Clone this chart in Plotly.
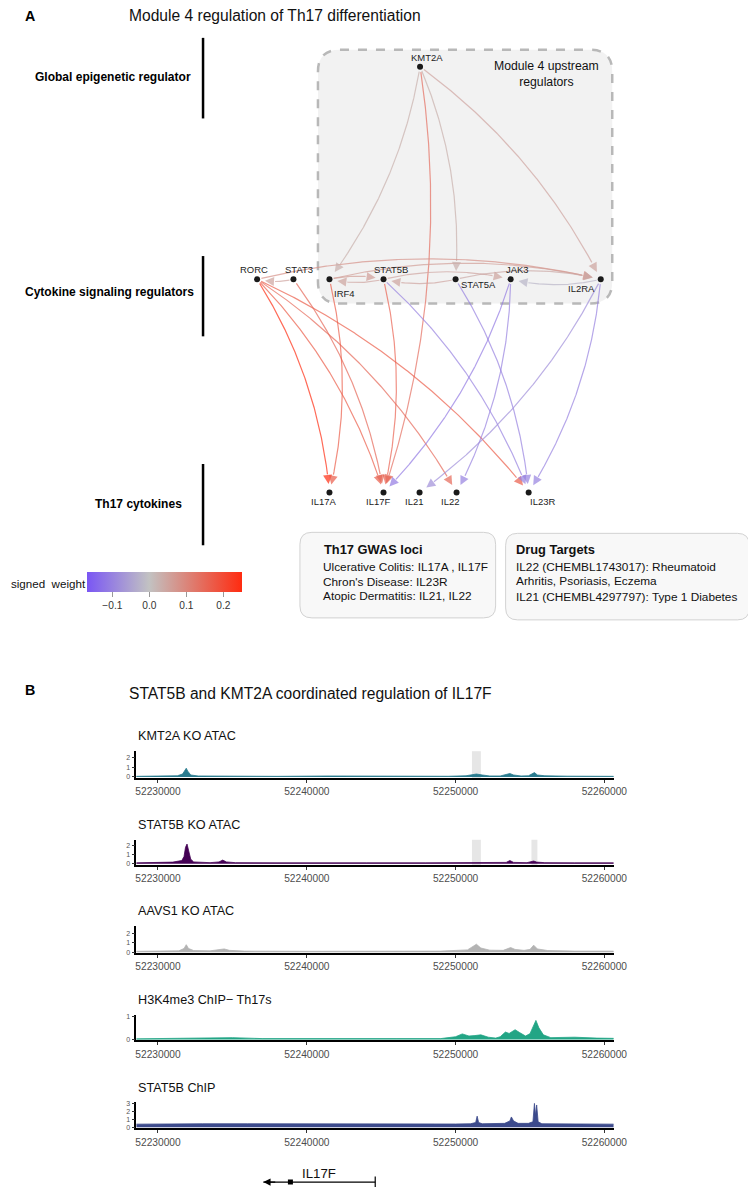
import numpy as np
import plotly.graph_objects as go
from plotly.colors import sample_colorscale

# Window pixel positions are mapped to figure pixels:
# the page body keeps an 8px margin and the photograph is squeezed horizontally (SX).
OFF = 8
SX = 756 / 771
W, H = 756, 1182
FONT = "Liberation Sans, Arial, Helvetica, sans-serif"

# ======================= DATA =======================
# ---- Panel A: regulatory network ----
panel_a_title = "Module 4 regulation of Th17 differentiation"
level_labels = ["Global epigenetic regulator", "Cytokine signaling regulators", "Th17 cytokines"]
module_box_label = "Module 4 upstream<br>regulators"
node_names = ["KMT2A", "RORC", "STAT3", "IRF4", "STAT5B", "STAT5A", "JAK3", "IL2RA",
              "IL17A", "IL17F", "IL21", "IL22", "IL23R"]
edge_source = ["KMT2A", "KMT2A", "KMT2A", "KMT2A",
               "RORC", "STAT3", "IRF4", "STAT5B", "IRF4", "STAT5B", "STAT5A", "STAT5A", "IL2RA",
               "RORC", "RORC", "RORC", "RORC", "STAT3", "IRF4", "STAT5B",
               "STAT5B", "STAT5A", "JAK3", "JAK3", "IL2RA", "IL2RA"]
edge_target = ["IRF4", "STAT5A", "IL2RA", "IL17F",
               "IL2RA", "RORC", "STAT5B", "IRF4", "IL2RA", "JAK3", "STAT5B", "IL2RA", "JAK3",
               "IL17A", "IL17F", "IL22", "IL23R", "IL17F", "IL17A", "IL17F",
               "IL23R", "IL23R", "IL17F", "IL22", "IL21", "IL23R"]
edge_weight = [0.03, 0.03, 0.05, 0.14,
               0.08, 0.05, 0.06, 0.05, 0.06, 0.05, 0.05, 0.04, -0.02,
               0.25, 0.17, 0.15, 0.17, 0.15, 0.17, 0.16,
               -0.10, -0.10, -0.11, -0.10, -0.08, -0.10]
weight_min, weight_max = -0.168, 0.251
weight_ticks = [-0.1, 0.0, 0.1, 0.2]
weight_tick_text = ["\u22120.1", "0.0", "0.1", "0.2"]
colorbar_label = "signed  weight"

gwas_title = "Th17 GWAS loci"
gwas_lines = ["Ulcerative Colitis: IL17A , IL17F", "Chron's Disease: IL23R", "Atopic Dermatitis: IL21, IL22"]
drug_title = "Drug Targets"
drug_lines = ["IL22 (CHEMBL1743017): Rheumatoid", "Arhritis, Psoriasis, Eczema",
              "IL21 (CHEMBL4297797): Type 1 Diabetes"]

# ---- Panel B: genome tracks ----
panel_b_title = "STAT5B and KMT2A coordinated regulation of IL17F"
track_titles = ["KMT2A KO ATAC", "STAT5B KO ATAC", "AAVS1 KO ATAC", "H3K4me3 ChIP\u2212 Th17s", "STAT5B ChIP"]
genome_range = [52228540, 52260630]
genome_ticks = [52230000, 52240000, 52250000, 52260000]

kmt2a_ko_atac = [(52228540, 0.06), (52229500, 0.06), (52230500, 0.08), (52231300, 0.12), (52231650, 0.3),
                 (52231800, 0.75), (52231900, 0.9), (52232000, 0.6), (52232200, 0.2), (52232700, 0.1),
                 (52233800, 0.08), (52234300, 0.14), (52234500, 0.1), (52235200, 0.07), (52238000, 0.06),
                 (52241500, 0.1), (52243500, 0.08), (52246000, 0.06), (52249500, 0.07), (52250700, 0.12),
                 (52251100, 0.25), (52251400, 0.3), (52251800, 0.2), (52252300, 0.1), (52253000, 0.1),
                 (52253450, 0.25), (52253650, 0.35), (52253900, 0.2), (52254400, 0.1), (52254900, 0.12),
                 (52255150, 0.35), (52255300, 0.45), (52255500, 0.2), (52256000, 0.12), (52257500, 0.08),
                 (52260630, 0.06)]
stat5b_ko_atac = [(52228540, 0.1), (52230000, 0.12), (52231000, 0.18), (52231400, 0.3), (52231600, 0.35),
                  (52231750, 0.8), (52231850, 1.8), (52231950, 2.15), (52232050, 1.6), (52232200, 0.5),
                  (52232400, 0.2), (52233500, 0.12), (52234100, 0.2), (52234350, 0.4), (52234600, 0.2),
                  (52235200, 0.12), (52238000, 0.1), (52241500, 0.14), (52244000, 0.1), (52248000, 0.1),
                  (52251000, 0.12), (52251500, 0.15), (52252500, 0.1), (52253400, 0.15), (52253650, 0.35),
                  (52253900, 0.15), (52254800, 0.12), (52255100, 0.2), (52255250, 0.3), (52255450, 0.18),
                  (52256000, 0.12), (52258000, 0.1), (52260630, 0.1)]
aavs1_ko_atac = [(52228540, 0.1), (52230000, 0.12), (52231400, 0.15), (52231750, 0.4), (52231900, 0.8),
                 (52232050, 0.4), (52232400, 0.18), (52233500, 0.15), (52234200, 0.25), (52234450, 0.35),
                 (52234800, 0.2), (52235800, 0.12), (52240000, 0.1), (52245000, 0.1), (52249000, 0.12),
                 (52250800, 0.25), (52251150, 0.6), (52251400, 0.85), (52251700, 0.45), (52252300, 0.22),
                 (52253200, 0.2), (52253450, 0.35), (52253700, 0.5), (52254000, 0.3), (52254600, 0.2),
                 (52255000, 0.3), (52255250, 0.75), (52255500, 0.35), (52256200, 0.18), (52258000, 0.12),
                 (52260630, 0.12)]
h3k4me3_chip = [(52228540, 0.03), (52232000, 0.04), (52235000, 0.08), (52237000, 0.04), (52240000, 0.03),
                (52243000, 0.05), (52246000, 0.04), (52249000, 0.04), (52250000, 0.12), (52250450, 0.24),
                (52250900, 0.15), (52251300, 0.17), (52251700, 0.2), (52252200, 0.1), (52252700, 0.06),
                (52253000, 0.12), (52253350, 0.32), (52253600, 0.26), (52254000, 0.42), (52254300, 0.3),
                (52254700, 0.15), (52255000, 0.25), (52255250, 0.65), (52255400, 0.82), (52255600, 0.5),
                (52255900, 0.2), (52256400, 0.08), (52258000, 0.1), (52259500, 0.06), (52260630, 0.05)]
stat5b_chip = [(52228540, 0.4), (52230000, 0.42), (52231900, 0.5), (52233000, 0.45), (52236000, 0.45),
               (52240000, 0.42), (52245000, 0.42), (52250000, 0.42), (52251000, 0.45), (52251350, 0.6),
               (52251450, 1.4), (52251550, 0.6), (52251800, 0.45), (52253300, 0.5), (52253650, 0.8),
               (52253750, 1.3), (52253900, 0.8), (52254200, 0.5), (52254900, 0.5), (52255200, 0.7),
               (52255300, 3.0), (52255380, 1.5), (52255450, 2.8), (52255550, 0.7), (52255800, 0.45),
               (52258000, 0.42), (52260630, 0.4)]
kmt2a_highlights = [(52251100, 52251700)]
stat5b_highlights = [(52251100, 52251700), (52255100, 52255500)]

gene_name = "IL17F"
gene_start, gene_end = 52237080, 52244600
gene_exon = 52238900

# ======================= LAYOUT (window pixel positions / styles) =======================
def px(x):
    return (x / SX - OFF) / W


def py(y):
    return 1 - (y - OFF) / H


def fs(size):
    return round(size / SX, 2)


node_pos = {"KMT2A": (418.5, 64), "RORC": (255.7, 277.7), "STAT3": (292, 277.7), "IRF4": (328, 277.7),
            "STAT5B": (382, 277.7), "STAT5A": (454, 277.7), "JAK3": (509, 277.7), "IL2RA": (599, 277.7),
            "IL17A": (328, 492), "IL17F": (382, 492), "IL21": (418, 492), "IL22": (455, 492),
            "IL23R": (527, 492)}
label_pos = {"KMT2A": (425, 55), "RORC": (253, 268), "STAT3": (298, 268), "IRF4": (343, 292),
             "STAT5B": (389, 268), "STAT5A": (477, 283), "JAK3": (516, 268), "IL2RA": (580, 287),
             "IL17A": (322, 501), "IL17F": (376, 501), "IL21": (412, 501), "IL22": (448, 501),
             "IL23R": (541, 501)}

cs = [[0.0, "#7a56f4"], [(0 - weight_min) / (weight_max - weight_min), "#c2c2c2"], [1.0, "#ff2b10"]]


def weight_color(w, alpha):
    frac = (w - weight_min) / (weight_max - weight_min)
    s = sample_colorscale(cs, [frac])[0]
    vals = [float(v) for v in s[s.find("(") + 1:s.find(")")].split(",")[:3]]
    return "rgba({:.0f},{:.0f},{:.0f},{})".format(vals[0], vals[1], vals[2], alpha)


def edge_curve(p0, p2, rad=0.12, trim0=4.0, trim1=8.0, head=10.0):
    d = p2 - p0
    c = (p0 + p2) / 2 + rad * np.array([d[1], -d[0]])
    t = np.linspace(0, 1, 240)[:, None]
    pts = (1 - t) ** 2 * p0 + 2 * t * (1 - t) * c + t ** 2 * p2
    seg = np.hypot(*np.diff(pts, axis=0).T)
    s = np.concatenate([[0], np.cumsum(seg)])
    L = s[-1]
    tip_idx = np.where(s <= L - trim1)[0][-1]
    tail_idx = np.where(s <= L - trim1 - head)[0][-1]
    start_idx = np.where(s >= trim0)[0][0]
    return pts[start_idx:tail_idx + 1], pts[tail_idx], pts[tip_idx]


def rounded_path(x0, y0, x1, y1, r):
    return (f"M{x0+r},{y0} L{x1-r},{y0} Q{x1},{y0} {x1},{y0+r} L{x1},{y1-r} Q{x1},{y1} {x1-r},{y1} "
            f"L{x0+r},{y1} Q{x0},{y1} {x0},{y1-r} L{x0},{y0+r} Q{x0},{y0} {x0+r},{y0} Z")


fig = go.Figure()
annotations = []
shapes = []

# ---------- Panel A ----------
shapes.append(dict(type="path", path=rounded_path(316.5, 47, 610.5, 302, 22), xref="x", yref="y",
                   fillcolor="#f2f2f2", line=dict(color="#b8b8b8", width=2.5, dash="dash"), layer="below"))
shapes.append(dict(type="path", path=rounded_path(298.5, 532, 494, 618, 12), xref="x", yref="y",
                   fillcolor="#f8f8f8", line=dict(color="#d2d2d2", width=1), layer="below"))
shapes.append(dict(type="path", path=rounded_path(504, 533, 747.5, 620, 12), xref="x", yref="y",
                   fillcolor="#f8f8f8", line=dict(color="#d2d2d2", width=1), layer="below"))

for src, tgt, w in zip(edge_source, edge_target, edge_weight):
    p0 = np.array(node_pos[src], float)
    p2 = np.array(node_pos[tgt], float)
    pts, tail, tip = edge_curve(p0, p2)
    col = weight_color(w, 0.7)
    fig.add_trace(go.Scatter(x=pts[:, 0], y=pts[:, 1], mode="lines", line=dict(color=col, width=1.2),
                             hoverinfo="skip", showlegend=False, xaxis="x", yaxis="y"))
    annotations.append(dict(x=tip[0], y=tip[1], ax=tail[0], ay=tail[1], xref="x", yref="y",
                            axref="x", ayref="y", text="", showarrow=True, arrowhead=2,
                            arrowsize=1.5, arrowwidth=1.2, arrowcolor=col, standoff=0))

fig.add_trace(go.Scatter(x=[node_pos[n][0] for n in node_names], y=[node_pos[n][1] for n in node_names],
                         mode="markers", marker=dict(size=6, color="#1a1a1a"), hoverinfo="skip",
                         showlegend=False, xaxis="x", yaxis="y"))
for n in node_names:
    annotations.append(dict(x=label_pos[n][0], y=label_pos[n][1], xref="x", yref="y", text=n,
                            showarrow=False, font=dict(size=fs(9.3), color="#222222"),
                            xanchor="center", yanchor="middle"))

# colorbar via the library
fig.add_trace(go.Scatter(x=[-50], y=[-50], mode="markers", hoverinfo="skip", showlegend=False,
                         xaxis="x", yaxis="y",
                         marker=dict(size=1, color=[0.0], colorscale=cs, cmin=weight_min, cmax=weight_max,
                                     showscale=True,
                                     colorbar=dict(orientation="h", x=px(86), xanchor="left",
                                                   y=py(572), yanchor="top", len=(155 / SX) / W,
                                                   lenmode="fraction",
                                                   thickness=20, thicknessmode="pixels", outlinewidth=0,
                                                   xpad=0, ypad=0, tickvals=weight_ticks,
                                                   ticktext=weight_tick_text, ticks="outside", ticklen=5,
                                                   tickcolor="#999999",
                                                   tickfont=dict(size=fs(10), color="#333333")))))
for v in weight_ticks:
    xv = 86 + (v - weight_min) / (weight_max - weight_min) * 155
    shapes.append(dict(type="line", x0=xv, x1=xv, y0=579.5, y1=584.5, xref="x", yref="y",
                       line=dict(color="#444444", width=1.5)))
annotations.append(dict(x=8 * SX, y=583, xref="x", yref="y", text=colorbar_label, showarrow=False,
                        font=dict(size=11.6, color="#111111"), xanchor="left", yanchor="middle"))

# level labels and bars
level_y = [(35, 116, 31.7, 74.3), (254.3, 335, 22.3, 290.5), (463.3, 545, 91.7, 503.3)]
for lab, (y0, y1, lx, ly) in zip(level_labels, level_y):
    shapes.append(dict(type="line", x0=201.7, x1=201.7, y0=y0, y1=y1, xref="x", yref="y",
                       line=dict(color="#000000", width=2.5)))
    annotations.append(dict(x=lx, y=ly, xref="x", yref="y", text=f"<b>{lab}</b>", showarrow=False,
                            font=dict(size=fs(11.8), color="#000000"), xanchor="left", yanchor="middle"))

annotations.append(dict(x=545, y=71, xref="x", yref="y", text=module_box_label, showarrow=False,
                        font=dict(size=fs(12), color="#111111"), align="center", xanchor="center",
                        yanchor="middle"))

# info boxes
annotations.append(dict(x=321, y=549, xref="x", yref="y", text=f"<b>{gwas_title}</b>", showarrow=False,
                        font=dict(size=fs(12.6), color="#111111"), xanchor="left", yanchor="middle"))
for line, yy in zip(gwas_lines, [567, 581.5, 596]):
    annotations.append(dict(x=320, y=yy, xref="x", yref="y", text=line, showarrow=False,
                            font=dict(size=fs(11.6), color="#111111"), xanchor="left", yanchor="middle"))
annotations.append(dict(x=512, y=549, xref="x", yref="y", text=f"<b>{drug_title}</b>", showarrow=False,
                        font=dict(size=fs(12.6), color="#111111"), xanchor="left", yanchor="middle"))
for line, yy in zip(drug_lines, [567, 580.5, 597]):
    annotations.append(dict(x=512, y=yy, xref="x", yref="y", text=line, showarrow=False,
                            font=dict(size=fs(11.6), color="#111111"), xanchor="left", yanchor="middle"))

# panel letters / titles
annotations.append(dict(x=22, y=13, xref="x", yref="y", text="<b>A</b>", showarrow=False,
                        font=dict(size=fs(14), color="#000000"), xanchor="left", yanchor="middle"))
annotations.append(dict(x=126, y=13, xref="x", yref="y", text=panel_a_title, showarrow=False,
                        font=dict(size=fs(15.3), color="#111111"), xanchor="left", yanchor="middle"))
annotations.append(dict(x=22, y=690, xref="x", yref="y", text="<b>B</b>", showarrow=False,
                        font=dict(size=fs(14), color="#000000"), xanchor="left", yanchor="middle"))
annotations.append(dict(x=126, y=694, xref="x", yref="y", text=panel_b_title, showarrow=False,
                        font=dict(size=fs(15.3), color="#111111"), xanchor="left", yanchor="middle"))

# ---------- Panel B ----------
tracks = [
    (kmt2a_ko_atac, "#2a7b8e", 752, 779, [-0.12, 2.66], [0, 1, 2], kmt2a_highlights, 737),
    (stat5b_ko_atac, "#440154", 841, 866.5, [-0.15, 2.62], [0, 1, 2], stat5b_highlights, 826),
    (aavs1_ko_atac, "#b3b3b3", 928, 955, [-0.1, 2.75], [0, 1, 2], [], 913),
    (h3k4me3_chip, "#22a585", 1016.7, 1042.7, [-0.04, 1.07], [0, 1], [], 1002),
    (stat5b_chip, "#3c4a8c", 1105, 1131, [-0.12, 3.12], [0, 1, 2, 3], [], 1090),
]
layout_axes = {}
for i, (data, color, top, bottom, yr, yt, hl, title_y) in enumerate(tracks):
    k = i + 2
    xs = [p[0] for p in data]
    ys = [p[1] for p in data]
    fig.add_trace(go.Scatter(x=xs, y=ys, mode="lines", fill="tozeroy", fillcolor=color,
                             line=dict(color=color, width=0.8), hoverinfo="skip", showlegend=False,
                             xaxis=f"x{k}", yaxis=f"y{k}"))
    layout_axes[f"xaxis{k}"] = dict(domain=[px(135), px(612)], range=genome_range, anchor=f"y{k}",
                                    showline=True, linecolor="#000000", linewidth=2, ticks="outside",
                                    ticklen=3, tickwidth=1, tickcolor="#333333", tickvals=genome_ticks,
                                    tickformat="d", tickfont=dict(size=fs(10), color="#4d4d4d"),
                                    showgrid=False, zeroline=False, fixedrange=True)
    layout_axes[f"yaxis{k}"] = dict(domain=[py(bottom), py(top)], range=yr, anchor=f"x{k}",
                                    showline=True, linecolor="#000000", linewidth=1.5, ticks="outside",
                                    ticklen=3, tickwidth=1, tickcolor="#333333", tickvals=yt,
                                    tickfont=dict(size=7, color="#555555"), showgrid=False,
                                    zeroline=False, fixedrange=True)
    for (g0, g1) in hl:
        shapes.append(dict(type="rect", x0=g0, x1=g1, y0=0, y1=1, xref=f"x{k}", yref=f"y{k} domain",
                           fillcolor="#e6e6e6", line=dict(width=0), layer="below"))
    annotations.append(dict(x=135, y=title_y, xref="x", yref="y", text=track_titles[i], showarrow=False,
                            font=dict(size=fs(12.4), color="#111111"), xanchor="left", yanchor="middle"))

# gene model (axis spans window rows 1165..1190)
fig.add_trace(go.Scatter(x=[gene_start, gene_end], y=[0.2, 0.2], mode="lines",
                         line=dict(color="#000000", width=1.2), hoverinfo="skip", showlegend=False,
                         xaxis="x7", yaxis="y7"))
fig.add_trace(go.Scatter(x=[gene_exon], y=[0.2], mode="markers",
                         marker=dict(symbol="square", size=5, color="#000000"), hoverinfo="skip",
                         showlegend=False, xaxis="x7", yaxis="y7"))
fig.add_trace(go.Scatter(x=[gene_end], y=[0.2], mode="markers",
                         marker=dict(symbol="line-ns", size=8, line=dict(color="#000000", width=1.2)),
                         hoverinfo="skip", showlegend=False, xaxis="x7", yaxis="y7"))
annotations.append(dict(x=gene_start, y=0.2, ax=gene_start + 900, ay=0.2, xref="x7", yref="y7",
                        axref="x7", ayref="y7", text="", showarrow=True, arrowhead=2, arrowsize=1.2,
                        arrowwidth=1.2, arrowcolor="#000000"))
annotations.append(dict(x=(gene_start + gene_end) / 2, y=0.56, xref="x7", yref="y7", text=gene_name,
                        showarrow=False, font=dict(size=fs(13), color="#111111"), xanchor="center",
                        yanchor="middle"))
layout_axes["xaxis7"] = dict(domain=[px(135), px(612)], range=genome_range, anchor="y7", visible=False,
                             fixedrange=True)
layout_axes["yaxis7"] = dict(domain=[py(1190), py(1165)], range=[0, 1], anchor="x7", visible=False,
                             fixedrange=True)

fig.update_layout(
    width=W, height=H, margin=dict(l=0, r=0, t=0, b=0),
    paper_bgcolor="white", plot_bgcolor="rgba(0,0,0,0)",
    font=dict(family=FONT, color="#111111"),
    xaxis=dict(domain=[0, 1], range=[OFF * SX, (W + OFF) * SX], visible=False, fixedrange=True),
    yaxis=dict(domain=[0, 1], range=[H + OFF, OFF], visible=False, fixedrange=True),
    showlegend=False,
    annotations=annotations, shapes=shapes,
    **layout_axes,
)

fig.write_html("out.html")
